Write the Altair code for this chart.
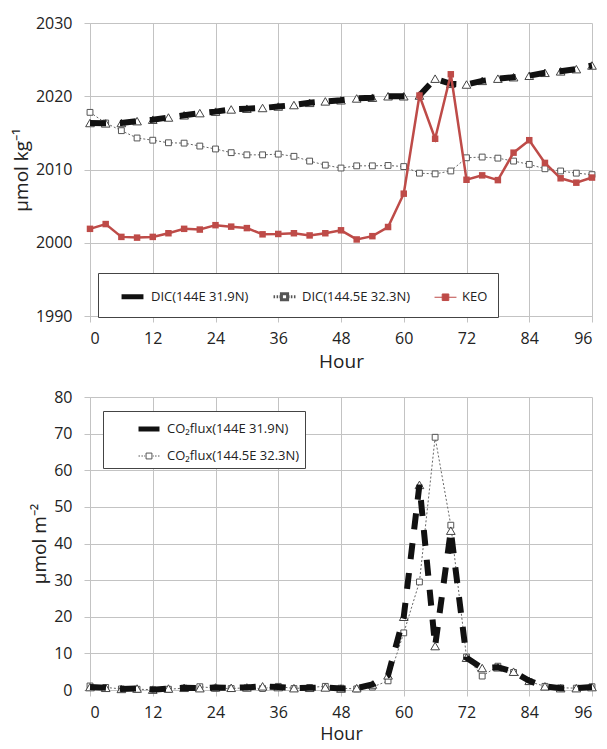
import altair as alt
import pandas as pd

# ---------------- data ----------------
hours = [0, 3, 6, 9, 12, 15, 18, 21, 24, 27, 30, 33, 36, 39, 42, 45, 48, 51, 54,
         57, 60, 63, 66, 69, 72, 75, 78, 81, 84, 87, 90, 93, 96]

dic_144e = [2016.35, 2016.3, 2016.35, 2016.6, 2016.8, 2017.1, 2017.4, 2017.7, 2017.9,
            2018.2, 2018.3, 2018.4, 2018.6, 2018.8, 2019.1, 2019.3, 2019.45, 2019.7,
            2019.8, 2020.0, 2020.0, 2020.1, 2022.4, 2021.7, 2021.6, 2022.1, 2022.4,
            2022.6, 2022.8, 2023.2, 2023.4, 2023.7, 2024.2]
dic_1445e = [2017.8, 2016.35, 2015.3, 2014.3, 2014.0, 2013.65, 2013.6, 2013.2, 2012.8,
             2012.3, 2012.0, 2012.0, 2012.1, 2011.8, 2011.15, 2010.6, 2010.2, 2010.5,
             2010.5, 2010.55, 2010.4, 2009.5, 2009.4, 2009.8, 2011.6, 2011.7, 2011.55,
             2011.15, 2010.7, 2010.1, 2009.8, 2009.5, 2009.3]
keo = [2001.9, 2002.55, 2000.8, 2000.7, 2000.8, 2001.3, 2001.9, 2001.8, 2002.4, 2002.2,
       2002.0, 2001.15, 2001.2, 2001.3, 2001.0, 2001.3, 2001.7, 2000.45, 2000.9, 2002.15,
       2006.7, 2020.1, 2014.2, 2023.0, 2008.6, 2009.2, 2008.55, 2012.3, 2014.0, 2010.9,
       2008.8, 2008.2, 2008.9]

flux_144e = [0.8, 0.6, 0.3, 0.4, 0.1, 0.4, 0.6, 0.5, 0.7, 0.6, 0.7, 1.0, 0.8, 0.5, 0.6,
             0.7, 0.4, 0.5, 1.5, 4.0, 20.0, 56.0, 12.0, 43.5, 8.8, 6.0, 6.2, 5.0, 2.5,
             1.0, 0.5, 0.5, 0.8]
flux_1445e = [1.1, 0.7, 0.3, 0.2, 0.1, 0.2, 0.5, 0.9, 0.5, 0.4, 0.6, 0.4, 1.0, 0.4, 0.7,
              1.0, 0.5, 0.3, 0.8, 2.5, 15.6, 29.5, 69.0, 45.0, 9.0, 3.8, 6.5, 4.8, 2.3,
              1.0, 0.6, 0.5, 0.9]

top_names = ["DIC(144E 31.9N)", "DIC(144.5E 32.3N)", "KEO"]
bottom_names = ["CO\u2082flux(144E 31.9N)", "CO\u2082flux(144.5E 32.3N)"]
hour_ticks = [0, 12, 24, 36, 48, 60, 72, 84, 96]
top_ticks = [1990, 2000, 2010, 2020, 2030]
bottom_ticks = [0, 10, 20, 30, 40, 50, 60, 70, 80]

# ---------------- styles ----------------
FONT = "Open Sans"
RED = "#be4b48"
BLACK = "#111111"
GREY = "#555555"
GRID = "#c3c3c3"

SYM_THICK = "M-1,0L1,0"
SYM_DOTTED = ("M-1,0H-0.86M-0.72,0H-0.58M-0.46,0H-0.36M0.36,0H0.46M0.58,0H0.72M0.86,0H1"
              "M-0.28,-0.28H0.28V0.28H-0.28Z")
SYM_RED = "M-1,0H1M-0.3,-0.3H0.3V0.3H-0.3Z"


def frame(names, arrays):
    rows = []
    for n, arr in zip(names, arrays):
        for h, v in zip(hours, arr):
            rows.append({"hour": h, "value": v, "series": n})
    return pd.DataFrame(rows)


top_df = frame(top_names, [dic_144e, dic_1445e, keo])
bot_df = frame(bottom_names, [flux_144e, flux_1445e])


def panel(df, names, y_domain, y_ticks, y_title, legend, paths, strokes, fills, widths,
          x_title_pad, x_title_size, red=True):
    base = alt.Chart(df).encode(
        x=alt.X("hour:Q", scale=alt.Scale(domain=[0, 96], nice=False, zero=False),
                axis=alt.Axis(values=hour_ticks, title="Hour", titlePadding=x_title_pad,
                              titleFontSize=x_title_size)),
        y=alt.Y("value:Q", scale=alt.Scale(domain=y_domain, nice=False, zero=False),
                axis=alt.Axis(values=y_ticks, title=y_title, format="d")),
    )
    s_thick, s_dot = names[0], names[1]
    layers = [
        base.transform_filter(alt.datum.series == s_dot).mark_line(
            color="#666666", strokeWidth=1, strokeDash=[2, 2]),
        base.transform_filter(alt.datum.series == s_dot).mark_point(
            shape="square", size=34, filled=True, fill="white", stroke=GREY,
            strokeWidth=1, opacity=1),
        base.transform_filter(alt.datum.series == s_thick).mark_point(
            shape="triangle-up", size=75, filled=True, fill="white", stroke="#444444",
            strokeWidth=1, opacity=1),
        base.transform_filter(alt.datum.series == s_thick).mark_line(
            color=BLACK, strokeWidth=6, strokeDash=[16, 14]),
    ]
    if red:
        layers += [
            base.transform_filter(alt.datum.series == "KEO").mark_line(
                color=RED, strokeWidth=2.5),
            base.transform_filter(alt.datum.series == "KEO").mark_point(
                shape="square", size=42, filled=True, color=RED, opacity=1),
        ]
    leg = base.transform_filter(alt.datum.hour < 0).mark_point(
        filled=True, opacity=1).encode(
        shape=alt.Shape("series:N", scale=alt.Scale(domain=names, range=paths), legend=legend),
        stroke=alt.Stroke("series:N", scale=alt.Scale(domain=names, range=strokes), legend=legend),
        fill=alt.Fill("series:N", scale=alt.Scale(domain=names, range=fills), legend=legend),
        strokeWidth=alt.StrokeWidth("series:O", scale=alt.Scale(domain=names, range=widths),
                                    legend=legend),
    )
    layers.append(leg)
    return alt.layer(*layers).properties(width=502, height=293)


top_legend = alt.Legend(
    title=None, orient="none", legendX=8, legendY=250, direction="horizontal",
    padding=10, strokeColor="#444444", fillColor="white", symbolSize=480,
    symbolOffset=11, labelOffset=5, columnPadding=12, labelFont=FONT,
    labelFontSize=13, labelColor="#222222", labelLimit=300,
)
bottom_legend = alt.Legend(
    title=None, orient="none", legendX=13, legendY=14, direction="vertical",
    padding=5, strokeColor="#444444", fillColor="white", symbolSize=440,
    symbolOffset=28, labelOffset=5, rowPadding=6, labelFont=FONT,
    labelFontSize=13, labelColor="#222222", labelLimit=300,
)

top = panel(top_df, top_names, [1990, 2030], top_ticks, "\u00b5mol kg\u207b\u00b9",
            top_legend, [SYM_THICK, SYM_DOTTED, SYM_RED], [BLACK, GREY, RED],
            ["transparent", "white", RED], [5, 1, 2.5], 6, 19, red=True)
bottom = panel(bot_df, bottom_names, [0, 80], bottom_ticks, "\u00b5mol m\u207b\u00b2",
               bottom_legend, [SYM_THICK, SYM_DOTTED], [BLACK, GREY],
               ["transparent", "white"], [5, 1], 5, 18, red=False)

chart = alt.vconcat(top, bottom, spacing=18).resolve_scale(
    shape="independent", stroke="independent", fill="independent", strokeWidth="independent"
).properties(
    padding={"left": 12, "top": 15, "right": 0, "bottom": 0},
    background="white",
).configure_view(stroke=None).configure_axis(
    grid=True, gridColor=GRID, gridWidth=1, domainColor=GRID, domainWidth=1,
    tickColor=GRID, tickSize=6, labelFont=FONT, labelFontSize=16, labelColor="#222222",
    titleFont=FONT, titleFontSize=19, titleFontWeight="normal", titleColor="#222222",
).configure_axisX(labelPadding=8).configure_axisY(
    labelPadding=12, titlePadding=4)

chart.save("out.html", embed_options={"renderer": "svg", "actions": False})
